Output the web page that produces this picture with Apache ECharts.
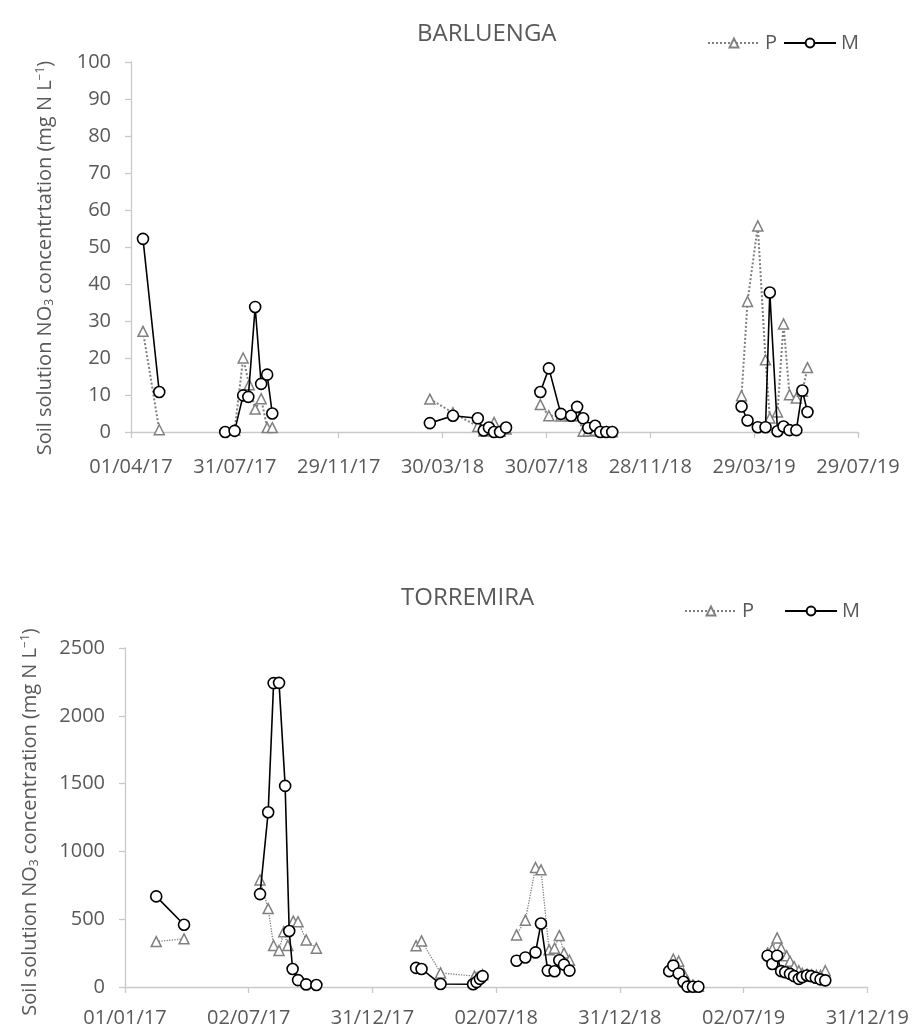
<!DOCTYPE html>
<html>
<head>
<meta charset="utf-8">
<script src="https://cdn.jsdelivr.net/npm/echarts@6/dist/echarts.min.js"></script>
<style>
  html, body { margin: 0; padding: 0; background: #fff; }
  #chart { width: 912px; height: 1028px; }
</style>
</head>
<body>
<div id="chart"></div>
<script>
// x values are days after the first tick date of each panel; null = gap between campaigns
const barTicks = ['01/04/17', '31/07/17', '29/11/17', '30/03/18', '30/07/18', '28/11/18', '29/03/19', '29/07/19'];
const torTicks = ['01/01/17', '02/07/17', '31/12/17', '02/07/18', '31/12/18', '02/07/19', '31/12/19'];

const barDaysP = [14, 33, null, 121, 131, 138, 145, 152, 159, 165, null, 349, 376, 405, 412, 418, 424, 431, 438, null,
    478, 488, 502, 514, 521, 528, 534, 542, 548, 555, 562, null, 713, 720, 732, 741, 746, 755, 762, 769, 777, 784, 790];
const barP = [27.2, 0.6, null, 0.5, 20, 12.8, 6.2, 9, 1.2, 1.2, null, 8.9, 5.2, 1.5, 0.3, 0.5, 2.6, 0.2, 0.8, null,
    7.4, 4.4, 4.3, 4.3, 4.5, 0.2, 0.3, 0.5, 0.2, 0.1, 0.1, null, 9.8, 35.3, 55.7, 19.5, 3.8, 5.4, 29.2, 10.1, 9.2, 11, 17.4];

const barDaysM = [14, 33, null, 110, 121, 131, 137, 145, 152, 159, 165, null, 349, 376, 405, 412, 418, 424, 431, 438, null,
    478, 488, 502, 514, 521, 528, 534, 542, 548, 555, 562, null, 713, 720, 732, 741, 746, 755, 762, 769, 777, 784, 790];
const barM = [52.2, 10.8, null, 0, 0.3, 9.9, 9.5, 33.8, 13, 15.5, 5, null, 2.4, 4.4, 3.7, 0.4, 1.2, 0, 0, 1.2, null,
    10.8, 17.2, 4.9, 4.4, 6.8, 3.7, 1.1, 1.7, 0, 0, 0, null, 6.9, 3.1, 1.3, 1.3, 37.7, 0.2, 1.5, 0.5, 0.5, 11.2, 5.4];

const torDaysP = [46, 87, null, 199, 211, 219, 227, 234, 240, 248, 255, 267, 282, null, 429, 437, 465, 515, 519, 523, 527, null,
    577, 590, 605, 613, 625, 633, 640, 647, 655, null, 802, 808, 816, 823, 829, 837, 845, null,
    947, 954, 961, 967, 975, 980, 986, 993, 998, 1005, 1012, 1019, 1025, 1032];
const torP = [335, 355, null, 789, 578, 306, 269, 408, 306, 486, 481, 347, 286, null, 304, 340, 104, 80, 70, 75, 90, null,
    384, 493, 881, 864, 274, 286, 379, 250, 197, null, 140, 205, 190, 100, 45, 15, 5, null,
    250, 280, 362, 286, 230, 190, 150, 120, 100, 95, 90, 85, 85, 120];

const torDaysM = [46, 87, null, 199, 211, 219, 227, 236, 242, 247, 255, 267, 282, null, 429, 437, 465, 513, 518, 523, 527, null,
    577, 590, 605, 613, 623, 633, 640, 647, 655, null, 802, 808, 816, 823, 829, 837, 845, null,
    947, 954, 961, 967, 973, 980, 986, 993, 998, 1005, 1011, 1018, 1025, 1032];
const torM = [668, 459, null, 685, 1289, 2241, 2243, 1483, 413, 133, 51, 19, 15, null, 141, 133, 22, 20, 36, 60, 80, null,
    194, 218, 255, 468, 121, 116, 197, 165, 121, null, 117, 158, 100, 39, 3, 2, 2, null,
    231, 170, 231, 117, 109, 97, 80, 60, 73, 85, 80, 68, 56, 49];

const barInterval = 849 / 7;
const torInterval = 1094 / 6;

const FONT = 'Open Sans';
const TXT = '#595959';
const AXIS = '#c9c9c9';
const GREY = '#808080';

const toPairs = (days, vals) => days.map((d, i) => (d === null ? '-' : [d, vals[i]]));

const nameRich = {
    a: { fontSize: 20, color: TXT, fontFamily: FONT },
    sub: { fontSize: 12, color: TXT, fontFamily: FONT, verticalAlign: 'bottom', padding: [9, 0, 0, 0] },
    sup: { fontSize: 12, color: TXT, fontFamily: FONT, verticalAlign: 'top', padding: [0, 0, 9, 0] }
};

const xAxisOpt = (gridIndex, max, interval, ticks, margin) => ({
    type: 'value',
    gridIndex: gridIndex,
    min: 0,
    max: max,
    interval: interval,
    splitLine: { show: false },
    axisLine: { lineStyle: { color: AXIS, width: 1.3 } },
    axisTick: { show: true, length: 6, lineStyle: { color: AXIS, width: 1.3 } },
    axisLabel: {
        color: TXT, fontSize: 20, fontFamily: FONT, margin: margin,
        formatter: (v) => ticks[Math.round(v / interval)] || ''
    }
});

const yAxisOpt = (gridIndex, max, interval, name, gap, shift) => ({
    type: 'value',
    gridIndex: gridIndex,
    min: 0,
    max: max,
    interval: interval,
    name: name,
    nameLocation: 'middle',
    nameGap: gap,
    nameTextStyle: { rich: nameRich, padding: [0, shift, 0, 0] },
    splitLine: { show: false },
    axisLine: { show: true, lineStyle: { color: AXIS, width: 1.3 } },
    axisTick: { show: true, length: 6, lineStyle: { color: AXIS, width: 1.3 } },
    axisLabel: { color: TXT, fontSize: 20, fontFamily: FONT, margin: 20, formatter: (v) => String(v) }
});

const pSeries = (idx, data, width) => ({
    name: 'P',
    type: 'line',
    xAxisIndex: idx,
    yAxisIndex: idx,
    data: data,
    symbol: 'triangle',
    symbolSize: 10,
    lineStyle: { color: GREY, width: width, type: 'dotted' },
    itemStyle: { color: '#fff', borderColor: GREY, borderWidth: 1.5 },
    emphasis: { disabled: true },
    z: 2
});

const mSeries = (idx, data) => ({
    name: 'M',
    type: 'line',
    xAxisIndex: idx,
    yAxisIndex: idx,
    data: data,
    symbol: 'circle',
    symbolSize: 11,
    lineStyle: { color: '#000', width: 1.6 },
    itemStyle: { color: '#fff', borderColor: '#000', borderWidth: 1.6 },
    emphasis: { disabled: true },
    z: 3
});

const legendOpt = (left, top, itemWidth, gap) => ({
    left: left,
    top: top,
    itemWidth: itemWidth,
    itemHeight: 11,
    itemGap: gap,
    selectedMode: false,
    textStyle: { color: TXT, fontSize: 20, fontFamily: FONT },
    data: ['P', 'M']
});

const chart = echarts.init(document.getElementById('chart'), null, { renderer: 'canvas' });

chart.setOption({
    backgroundColor: '#fff',
    animation: false,
    title: [
        { text: 'BARLUENGA', left: 412, top: 17, textStyle: { color: TXT, fontSize: 24, fontWeight: 'normal', fontFamily: FONT } },
        { text: 'TORREMIRA', left: 396, top: 581, textStyle: { color: TXT, fontSize: 24, fontWeight: 'normal', fontFamily: FONT } }
    ],
    legend: [
        legendOpt(702, 28, 52, 6),
        legendOpt(679, 596, 52, 30)
    ],
    grid: [
        { left: 131, right: 54, top: 62, height: 370 },
        { left: 125, right: 41, top: 648, height: 343 }
    ],
    xAxis: [
        xAxisOpt(0, 849, barInterval, barTicks, 25),
        xAxisOpt(1, 1094, torInterval, torTicks, 21)
    ],
    yAxis: [
        yAxisOpt(0, 100, 10, '{a|Soil solution NO}{sub|3}{a| concentrtation (mg N L}{sup|\u22121}{a|)}', 75, 22),
        yAxisOpt(1, 2500, 500, '{a|Soil solution NO}{sub|3}{a| concentration (mg N L}{sup|\u22121}{a|)}', 84, 9)
    ],
    series: [
        pSeries(0, toPairs(barDaysP, barP), 2),
        mSeries(0, toPairs(barDaysM, barM)),
        pSeries(1, toPairs(torDaysP, torP), 1.3),
        mSeries(1, toPairs(torDaysM, torM))
    ]
});
</script>
</body>
</html>
